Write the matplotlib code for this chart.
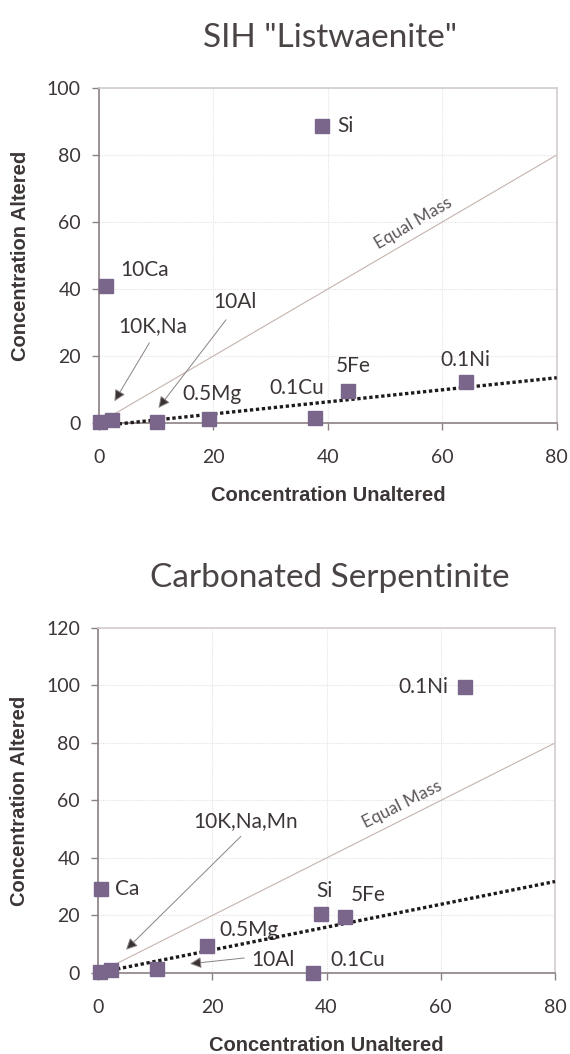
import numpy as np
import matplotlib
matplotlib.use('Agg')
import matplotlib.pyplot as plt

# ---- data ----
# SIH "Listwaenite"
top_x = [0.1, 2.2, 10.2, 19.3, 37.8, 43.5, 64.1, 1.2, 39.0]
top_y = [0.3, 1.0, 0.4, 1.1, 1.4, 9.4, 12.1, 41.0, 88.7]
top_fit = (0.18, -0.9)          # slope, intercept of dotted line
top_fit_range = [0.3, 80]
top_labels = ['Si', '10Ca', '10K,Na', '10Al', '0.5Mg', '0.1Cu', '5Fe', '0.1Ni']
top_label_xy = [(41.6, 88.6), (3.7, 45.8), (3.4, 28.9), (19.9, 36.0),
                (14.5, 8.5), (29.7, 10.4), (41.3, 16.9), (59.7, 18.9)]
top_arrows = [((8.8, 23.9), (2.7, 6.5)), ((22.2, 30.8), (10.4, 4.5))]
top_eq_text = (55.0, 59.5)

# Carbonated Serpentinite
bot_x = [0.3, 2.3, 10.4, 19.1, 37.6, 39.0, 43.3, 64.2, 0.5]
bot_y = [0.4, 1.0, 1.3, 9.4, 0.0, 20.5, 19.6, 99.6, 29.1]
bot_fit = (0.397, 0.05)
bot_fit_range = [2.3, 80]
bot_labels = ['0.1Ni', 'Ca', 'Si', '5Fe', '0.5Mg', '10Al', '0.1Cu', '10K,Na,Mn']
bot_label_xy = [(61.3, 99.5), (2.9, 29.2), (38.2, 28.4), (44.2, 27.2),
                (21.3, 15.1), (26.9, 4.6), (40.6, 4.4), (16.7, 52.8)]
bot_arrows = [((25.6, 5.2), (16.1, 3.2)), ((25.0, 47.5), (4.9, 8.1))]
bot_eq_text = (53.3, 58.5)

equal_mass = [0, 80]

MARK = '#7a668a'
TXT = '#3d3636'
FONT = 'Lato'


def draw_panel(ax, xs, ys, fit, fit_range, labels, label_xy, arrows, eq_xy,
               ymax, ystep, ha_first='left'):
    ax.set_xlim(0, 80)
    ax.set_ylim(0, ymax)
    ax.set_xticks(np.arange(0, 81, 20))
    ax.set_yticks(np.arange(0, ymax + 1, ystep))
    ax.grid(True, color='#e6e2e2', lw=0.8, ls=(0, (1, 1)))
    ax.set_axisbelow(True)

    # equal mass line y = x
    ax.plot(equal_mass, equal_mass, color='#c4b4ae', lw=0.8, zorder=2)
    ax.text(eq_xy[0], eq_xy[1], 'Equal Mass', rotation=45,
            transform_rotates_text=True, rotation_mode='anchor',
            ha='center', va='center', fontsize=12.5, color='#5e5656',
            family=FONT)

    # dotted fit
    fx = np.array(fit_range)
    ax.plot(fx, fit[0] * fx + fit[1], color='#1e1a1a', lw=2.4,
            ls=(0, (1, 0.8)), zorder=4, clip_on=False)

    ax.plot(xs, ys, 's', color=MARK, ms=10, zorder=5, clip_on=False)

    for lab, (lx, ly) in zip(labels, label_xy):
        ha = 'right' if lab == '0.1Ni' and ha_first == 'right' else 'left'
        ax.text(lx, ly, lab, ha=ha, va='center', fontsize=15, color=TXT,
                family=FONT)

    for (sx, sy), (ex, ey) in arrows:
        ax.annotate('', xy=(ex, ey), xytext=(sx, sy),
                    arrowprops=dict(arrowstyle='-|>', lw=0.7, ec='#8a8282',
                                    fc='#3a3333', mutation_scale=17,
                                    shrinkA=0, shrinkB=0))

    for s in ['left', 'bottom']:
        ax.spines[s].set_color('#8c8082')
        ax.spines[s].set_linewidth(1.2)
    for s in ['top', 'right']:
        ax.spines[s].set_color('#d4cccc')
        ax.spines[s].set_linewidth(1.2)
    ax.tick_params(direction='out', length=5, width=1, color='#8c8082',
                   labelsize=14, labelcolor=TXT, pad=8)
    for t in ax.get_xticklabels() + ax.get_yticklabels():
        t.set_family(FONT)
    ax.tick_params(axis='x', pad=14)
    ax.set_xlabel('Concentration Unaltered', fontsize=14.5, fontweight='bold',
                  color=TXT, family='Liberation Sans', labelpad=14)
    ax.set_ylabel('Concentration Altered', fontsize=14.5, fontweight='bold',
                  color=TXT, family='Liberation Sans', labelpad=12)


fig = plt.figure(figsize=(5.7, 10.54), dpi=100)
ax1 = fig.add_axes([0.1737, 0.5987, 0.803, 0.3178])
ax2 = fig.add_axes([0.172, 0.0769, 0.8018, 0.3273])

draw_panel(ax1, top_x, top_y, top_fit, top_fit_range, top_labels,
           top_label_xy, top_arrows, top_eq_text, 100, 20)
draw_panel(ax2, bot_x, bot_y, bot_fit, bot_fit_range, bot_labels,
           bot_label_xy, bot_arrows, bot_eq_text, 120, 20, ha_first='right')

fig.text(330 / 570, 1 - 38 / 1054, 'SIH "Listwaenite"', ha='center',
         va='center', fontsize=24, color='#4a4444', family=FONT)
fig.text(330 / 570, 1 - 578 / 1054, 'Carbonated Serpentinite', ha='center',
         va='center', fontsize=24, color='#4a4444', family=FONT)

fig.savefig('out.png', dpi=100)
